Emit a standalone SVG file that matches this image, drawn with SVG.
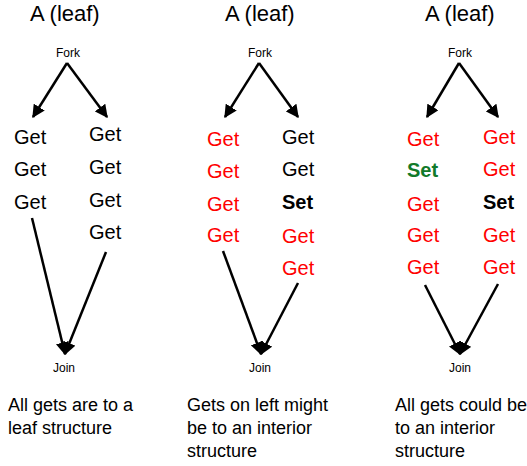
<svg xmlns="http://www.w3.org/2000/svg" width="527" height="466" viewBox="0 0 527 466">
  <style>
    text { font-family: "Liberation Sans", Arial, sans-serif; fill: #000; }
    .title { font-size: 22px; }
    .small { font-size: 12px; }
    .op { font-size: 20px; }
    .set { font-size: 20px; font-weight: bold; }
    .red { fill: #ff0000; }
    .green { fill: #127a2a; }
    .cap { font-size: 18px; }
    .edge { stroke: #000; stroke-width: 2.5; fill: none; marker-end: url(#arrow); }
  </style>
  <defs>
    <marker id="arrow" viewBox="0 0 10 10" refX="9" refY="5" markerWidth="13" markerHeight="13" markerUnits="userSpaceOnUse" orient="auto">
      <path d="M0,0 L10,5 L0,10 z" fill="#000"/>
    </marker>
  </defs>

  <!-- Panel 1: all leaf reads -->
  <g id="p1-title"><text class="title" x="30" y="21">A (leaf)</text></g>
  <g id="p1-fork"><text class="small" x="56" y="57">Fork</text></g>
  <g id="p1-left">
    <text class="op" x="14" y="144">Get</text>
    <text class="op" x="14" y="176">Get</text>
    <text class="op" x="14" y="209">Get</text>
  </g>
  <g id="p1-right">
    <text class="op" x="89" y="141">Get</text>
    <text class="op" x="89" y="174">Get</text>
    <text class="op" x="89" y="207">Get</text>
    <text class="op" x="89" y="239">Get</text>
  </g>
  <g id="p1-join"><text class="small" x="53" y="372">Join</text></g>
  <g id="p1-caption">
    <text class="cap" x="8" y="411">All gets are to a</text>
    <text class="cap" x="8" y="434">leaf structure</text>
  </g>

  <!-- Panel 2: set on the right branch -->
  <g id="p2-title"><text class="title" x="225" y="21">A (leaf)</text></g>
  <g id="p2-fork"><text class="small" x="248" y="57">Fork</text></g>
  <g id="p2-left">
    <text class="op red" x="207" y="146">Get</text>
    <text class="op red" x="207" y="178">Get</text>
    <text class="op red" x="207" y="211">Get</text>
    <text class="op red" x="207" y="242">Get</text>
  </g>
  <g id="p2-right">
    <text class="op" x="282" y="144">Get</text>
    <text class="op" x="282" y="176">Get</text>
    <text class="set" x="282" y="209">Set</text>
    <text class="op red" x="282" y="243">Get</text>
    <text class="op red" x="282" y="275">Get</text>
  </g>
  <g id="p2-join"><text class="small" x="249" y="372">Join</text></g>
  <g id="p2-caption">
    <text class="cap" x="187" y="411">Gets on left might</text>
    <text class="cap" x="187" y="434">be to an interior</text>
    <text class="cap" x="187" y="457">structure</text>
  </g>

  <!-- Panel 3: sets on both branches -->
  <g id="p3-title"><text class="title" x="425" y="21">A (leaf)</text></g>
  <g id="p3-fork"><text class="small" x="448" y="57">Fork</text></g>
  <g id="p3-left">
    <text class="op red" x="407" y="146">Get</text>
    <text class="set green" x="407" y="177">Set</text>
    <text class="op red" x="407" y="211">Get</text>
    <text class="op red" x="407" y="242">Get</text>
    <text class="op red" x="407" y="274">Get</text>
  </g>
  <g id="p3-right">
    <text class="op red" x="483" y="144">Get</text>
    <text class="op red" x="483" y="176">Get</text>
    <text class="set" x="483" y="209">Set</text>
    <text class="op red" x="483" y="242">Get</text>
    <text class="op red" x="483" y="274">Get</text>
  </g>
  <g id="p3-join"><text class="small" x="449" y="372">Join</text></g>
  <g id="p3-caption">
    <text class="cap" x="395" y="411">All gets could be</text>
    <text class="cap" x="395" y="434">to an interior</text>
    <text class="cap" x="395" y="457">structure</text>
  </g>

  <!-- Fork and join connectors -->
  <g id="connectors">
    <line class="edge" x1="67" y1="63" x2="33" y2="117"/>
    <line class="edge" x1="67" y1="63" x2="107" y2="117"/>
    <line class="edge" x1="32" y1="218" x2="65" y2="354"/>
    <line class="edge" x1="106" y1="252" x2="65" y2="354"/>

    <line class="edge" x1="259" y1="63" x2="225" y2="117"/>
    <line class="edge" x1="259" y1="63" x2="298" y2="117"/>
    <line class="edge" x1="223" y1="251" x2="261" y2="354"/>
    <line class="edge" x1="298" y1="283" x2="261" y2="354"/>

    <line class="edge" x1="459" y1="63" x2="427" y2="117"/>
    <line class="edge" x1="459" y1="63" x2="498" y2="117"/>
    <line class="edge" x1="425" y1="285" x2="460" y2="354"/>
    <line class="edge" x1="498" y1="284" x2="460" y2="354"/>
  </g>
</svg>
